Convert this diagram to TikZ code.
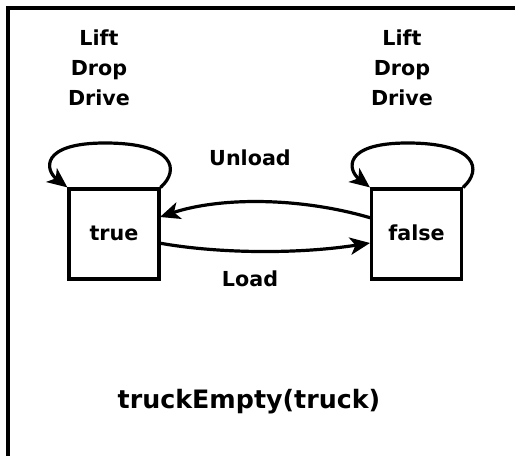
\documentclass[tikz,border=0pt]{standalone}
\usepackage{fontspec}
\setmainfont{DejaVu Sans}
\usetikzlibrary{arrows.meta}
\begin{document}
\begin{tikzpicture}[x=0.75pt,y=-0.75pt,
  statebox/.style={draw,line width=2.4pt,minimum width=67.5pt,minimum height=67.5pt,inner sep=0pt},
  lbl/.style={font=\fontsize{15.5}{18}\selectfont\bfseries,inner sep=0pt,anchor=base},
  conn/.style={line width=2.4pt,-{Stealth[length=15pt,width=13pt,inset=4pt]}}]
\useasboundingbox (0,0) rectangle (515,456);
% frame, open at the right and bottom
\draw[line width=2.4pt] (8,456) -- (8,8) -- (515,8);
% states
\node[statebox] (t) at (114,234) {};
\node[statebox] (f) at (416.5,234) {};
\node[lbl] (tl) at (114,241) {true};
\node[lbl] (fl) at (416.5,241) {false};
% actions that keep the state
\node[lbl] (l1) at (99,46) {Lift};
\node[lbl] (l2) at (99,76) {Drop};
\node[lbl] (l3) at (99,106) {Drive};
\node[lbl] (r1) at (402,46) {Lift};
\node[lbl] (r2) at (402,76) {Drop};
\node[lbl] (r3) at (402,106) {Drive};
% self loops
\coordinate (tlo) at (105,143);
\coordinate (flo) at (407.5,143);
\draw[conn] (t.north east) .. controls (180,170) and (175,143) .. (tlo)
  .. controls (40,143) and (45,170) .. (t.north west);
\draw[conn] (f.north east) .. controls (482.5,170) and (477.5,143) .. (flo)
  .. controls (342.5,143) and (347.5,170) .. (f.north west);
% transitions
\coordinate (fu) at (371,218);
\coordinate (tu) at (160,217);
\coordinate (tl2) at (159,243);
\coordinate (fl2) at (370,243);
\draw[conn] (fu) .. controls (300,197) and (220,197) .. (tu);
\draw[conn] (tl2) .. controls (220,254) and (300,254) .. (fl2);
\node[lbl] (ul) at (250,166) {Unload};
\node[lbl] (ld) at (250,287) {Load};
\node[font=\fontsize{19}{22}\selectfont\bfseries,inner sep=0pt,anchor=base] (title) at (249,409) {truckEmpty(truck)};
\end{tikzpicture}
\end{document}
